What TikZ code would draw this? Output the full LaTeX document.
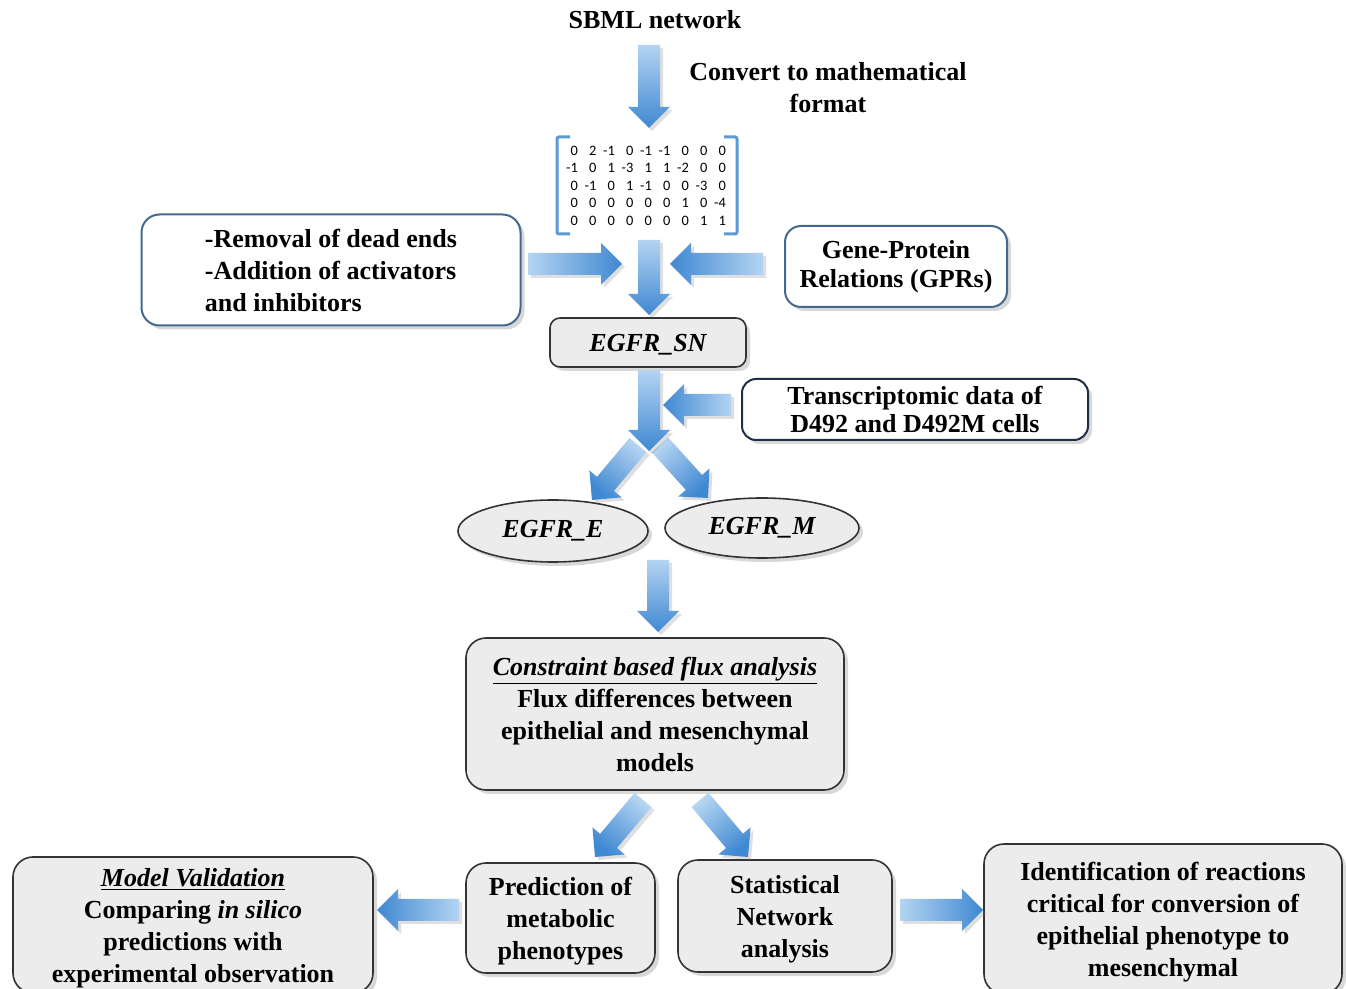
\documentclass[tikz,border=0pt]{standalone}
\usepackage{fontspec}
\setmainfont{Liberation Serif}
\newfontfamily\matfont{Carlito}
\usetikzlibrary{calc,shadows,shapes.geometric}
\definecolor{arrlight}{HTML}{B4D4F2}
\definecolor{arrdark}{HTML}{3F88D2}
\definecolor{bluebord}{HTML}{44698F}
\definecolor{navybord}{HTML}{1F2D45}
\definecolor{boxgray}{HTML}{ECECEC}
\definecolor{brk}{HTML}{5B9BD5}
\tikzset{
  txt/.style={font=\fontsize{13}{16}\selectfont\bfseries, align=center, inner sep=0pt},
  shad/.style={drop shadow={shadow xshift=2pt, shadow yshift=-2pt, opacity=0.3}},
  graybox/.style={txt, draw=black!80, line width=0.8pt, fill=boxgray, rounded corners=10pt, shad, text depth=0pt},
  bluebox/.style={txt, draw=bluebord, line width=1pt, fill=white, rounded corners=9pt, shad},
  navybox/.style={txt, draw=navybord, line width=1pt, fill=white, rounded corners=7pt, shad},
  grayell/.style={txt, ellipse, draw=black!80, line width=0.8pt, fill=boxgray, shad,
    font=\fontsize{13}{16}\selectfont\bfseries\itshape},
  bracket/.style={draw=brk, line width=1.5pt, rounded corners=1pt},
}
% block arrow from coordinate #1 to coordinate #2, shading angle #3
\newcommand\barrow[3]{%
  \coordinate (hb) at ($(#2)!10.5pt!(#1)$);
  \shade[top color=arrlight, bottom color=arrdark, shading angle=#3,
    drop shadow={shadow xshift=1.5pt, shadow yshift=-1.5pt, opacity=0.25}]
    ($(#1)!5.5pt!90:(#2)$) -- ($(hb)!5.5pt!-90:(#1)$) -- ($(hb)!10.5pt!-90:(#1)$)
    -- (#2) -- ($(hb)!10.5pt!90:(#1)$) -- ($(hb)!5.5pt!90:(#1)$)
    -- ($(#1)!5.5pt!-90:(#2)$) -- cycle;}
\begin{document}
\begin{tikzpicture}[x=0.5pt,y=-0.5pt]
\clip (0,0) rectangle (1346,989);
\fill[white] (0,0) rectangle (1346,989);

% texts and nodes
\node[txt] (sbml) at (655,20) {SBML network};
\node[txt] (conv) at (828,88) {Convert to mathematical\\format};
\node[font=\matfont\fontsize{7.2}{8.75}\selectfont, inner sep=0pt] (mat) at (646,187)
 {\setlength\tabcolsep{1.7pt}\begin{tabular}{rrrrrrrrr}
 0&2&-1&0&-1&-1&0&0&0\\
 -1&0&1&-3&1&1&-2&0&0\\
 0&-1&0&1&-1&0&0&-3&0\\
 0&0&0&0&0&0&1&0&-4\\
 0&0&0&0&0&0&0&1&1
 \end{tabular}};
\draw[bracket] (570,137) -- (557,137) -- (557,234) -- (570,234);
\draw[bracket] (724,137) -- (737,137) -- (737,234) -- (724,234);

\node[bluebox, minimum width=189.5pt, minimum height=55.5pt, align=left] (lb) at (331,270)
 {-Removal of dead ends\\-Addition of activators\\and inhibitors};
\node[bluebox, minimum width=111pt, minimum height=40.5pt, rounded corners=8pt,
 font=\fontsize{13}{14.5}\selectfont\bfseries] (gpr) at (896,266.5)
 {Gene-Protein\\Relations (GPRs)};
\node[graybox, rounded corners=5pt, minimum width=98pt, minimum height=24.5pt,
 font=\fontsize{13}{16}\selectfont\bfseries\itshape] (sn) at (648,342.5) {EGFR\_SN};
\node[navybox, minimum width=173pt, minimum height=30.5pt,
 font=\fontsize{13}{14}\selectfont\bfseries] (tr) at (915,409.5)
 {Transcriptomic data of\\D492 and D492M cells};
\node[grayell, minimum width=95pt, minimum height=31pt] (ee) at (553,531) {EGFR\_E};
\node[grayell, minimum width=97pt, minimum height=30pt] (em) at (762,528) {EGFR\_M};
\node[graybox, minimum width=189pt, minimum height=76pt] (cba) at (655,714)
 {\underline{\textit{Constraint based flux analysis}}\\Flux differences between\\epithelial and mesenchymal\\models};
\node[graybox, minimum width=94.5pt, minimum height=55pt] (pred) at (560.5,918)
 {Prediction of\\metabolic\\phenotypes};
\node[graybox, minimum width=107pt, minimum height=56pt] (stat) at (785,916)
 {Statistical\\Network\\analysis};
\node[graybox, minimum width=180pt, minimum height=68pt] (mv) at (193,925)
 {\underline{\textit{Model Validation}}\\Comparing \textit{in silico}\\predictions with\\experimental observation};
\node[graybox, minimum width=179pt, minimum height=75pt] (id) at (1163,919)
 {Identification of reactions\\critical for conversion of\\epithelial phenotype to\\mesenchymal};

% arrow end points
\coordinate (a1s) at (649,45);  \coordinate (a1e) at (649,128);
\coordinate (a2s) at (528,264); \coordinate (a2e) at (622,264);
\coordinate (a3s) at (763,264); \coordinate (a3e) at (670,264);
\coordinate (a4s) at (649,240); \coordinate (a4e) at (649,315);
\coordinate (a5s) at (649,370); \coordinate (a5e) at (649,451);
\coordinate (a6s) at (731,405); \coordinate (a6e) at (663,405);
\coordinate (a7s) at (638,445); \coordinate (a7e) at (592,500);
\coordinate (a8s) at (660,445); \coordinate (a8e) at (708,498);
\coordinate (a9s) at (658,560); \coordinate (a9e) at (658,632);
\coordinate (a10s) at (643,800); \coordinate (a10e) at (595,857);
\coordinate (a11s) at (700,800); \coordinate (a11e) at (748,857);
\coordinate (a12s) at (459,910); \coordinate (a12e) at (377,910);
\coordinate (a13s) at (900,910); \coordinate (a13e) at (983,910);

\barrow{a1s}{a1e}{0}
\barrow{a2s}{a2e}{90}
\barrow{a3s}{a3e}{270}
\barrow{a4s}{a4e}{0}
\barrow{a7s}{a7e}{-40}
\barrow{a8s}{a8e}{42}
\barrow{a5s}{a5e}{0}
\barrow{a6s}{a6e}{270}
\barrow{a9s}{a9e}{0}
\barrow{a10s}{a10e}{-40}
\barrow{a11s}{a11e}{40}
\barrow{a12s}{a12e}{270}
\barrow{a13s}{a13e}{90}
\end{tikzpicture}
\end{document}
